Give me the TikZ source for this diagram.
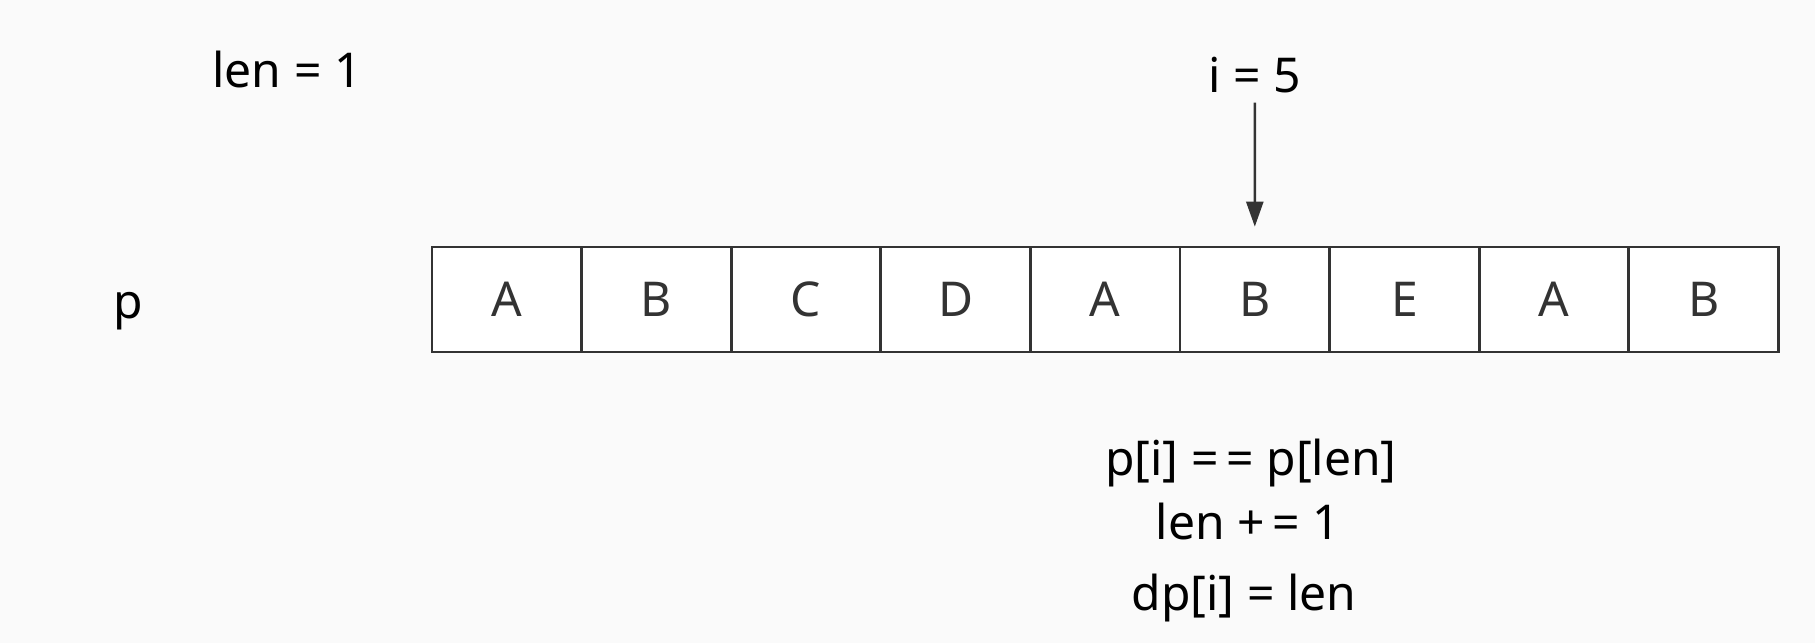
\documentclass[tikz,border=0pt]{standalone}
\usepackage{fontspec}
\setmainfont{Noto Sans}
\usetikzlibrary{arrows.meta}
\definecolor{bgcol}{HTML}{FAFAFA}
\definecolor{ink}{HTML}{333333}
\begin{document}
\begin{tikzpicture}[x=1pt,y=-1pt,
  cell/.style={draw=ink,line width=2.7pt,fill=white,minimum width=149.6pt,minimum height=105pt,inner sep=0pt,text=ink,font=\fontsize{48}{56}\selectfont},
  lbl/.style={inner sep=0pt,anchor=base,font=\fontsize{48}{56}\selectfont}]
\fill[bgcol] (0,0) rectangle (1815,643);
\useasboundingbox (0,0) rectangle (1815,643);
\node[lbl] (len) at (287,87) {len = 1};
\node[lbl] (i5) at (1254.8,92) {i = 5};
\node[lbl] (p) at (128,318) {p};
\foreach \k/\t in {1/A,2/B,3/C,4/D,5/A,6/B,7/E,8/A,9/B}
\node[cell] (c\k) at (432+149.6*\k-74.8,299.5) {\t};
\draw[ink,line width=2.5pt,-{Triangle[width=17pt,length=25pt]},shorten <=10pt,shorten >=19pt] (i5.south) -- (c6.north);
\node[lbl] (cond) at (1251,475) {p[i] =\,= p[len]};
\node[lbl] (incr) at (1248,539) {len +\,= 1};
\node[lbl] (assign) at (1244,610) {dp[i] = len};
\end{tikzpicture}
\end{document}
